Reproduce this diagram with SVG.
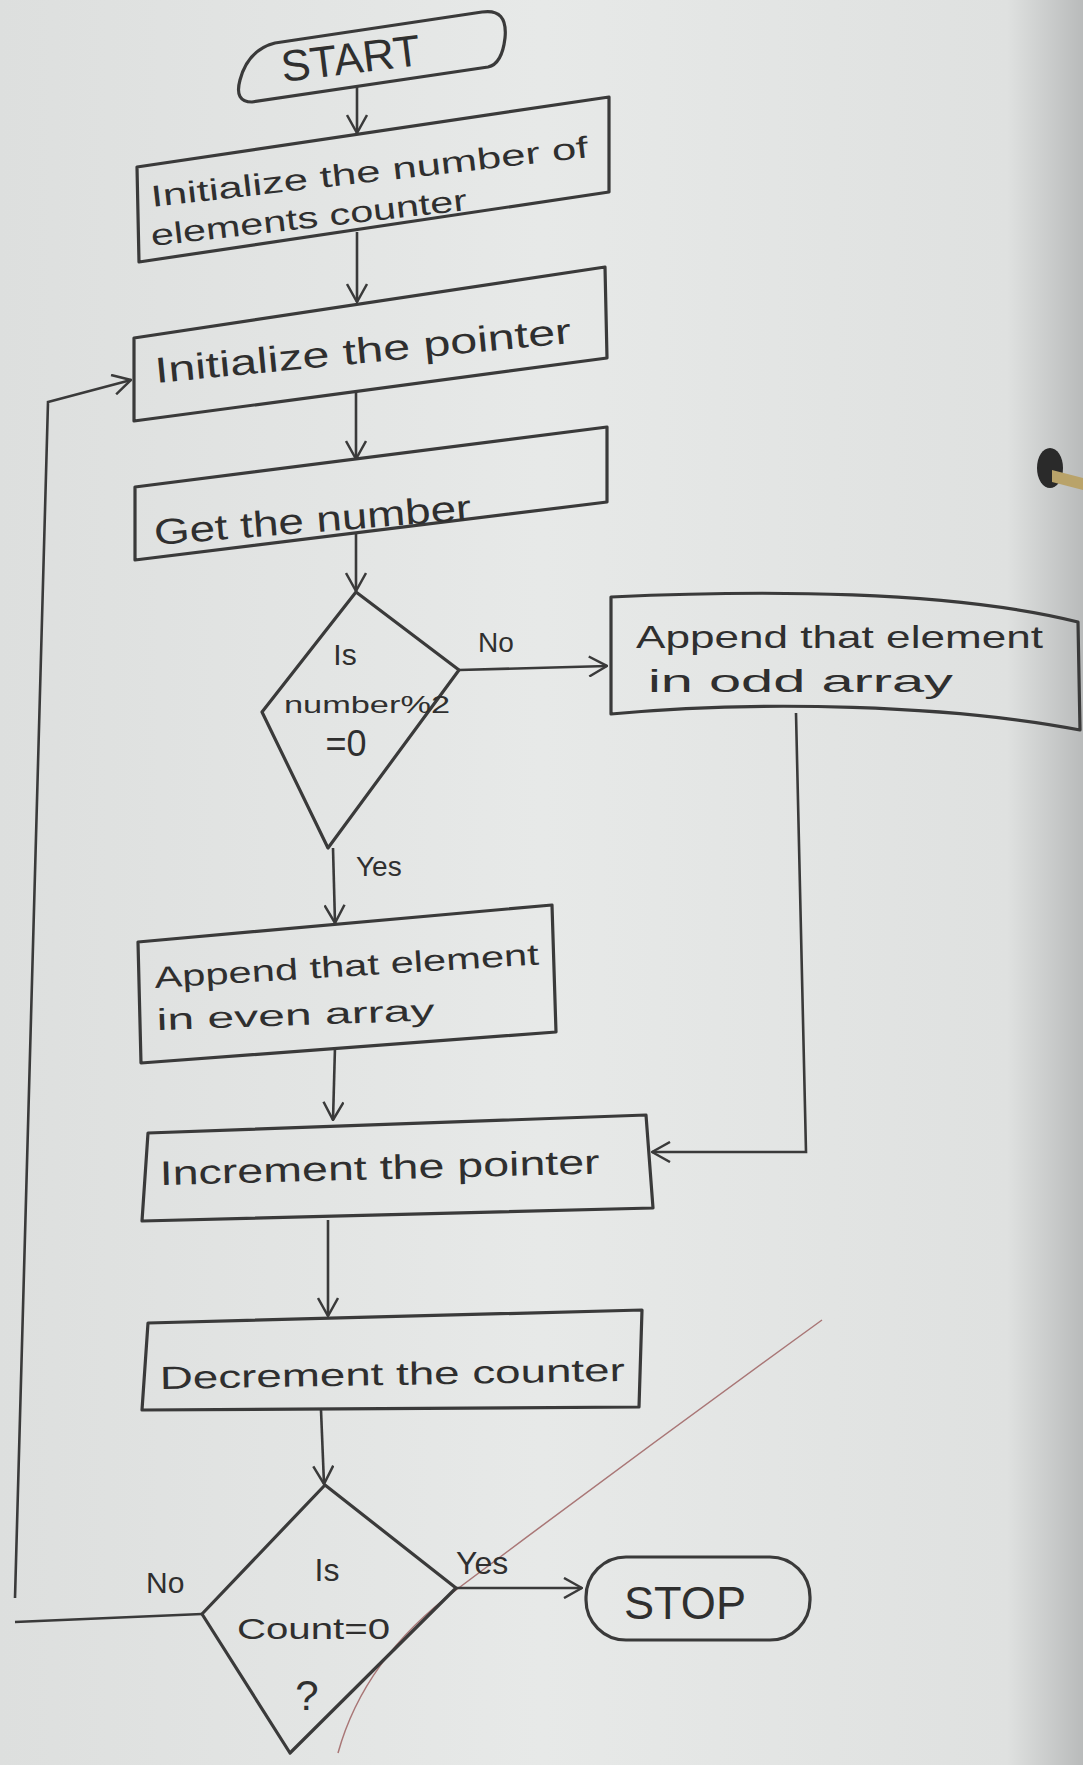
<svg xmlns="http://www.w3.org/2000/svg" width="1083" height="1765" viewBox="0 0 1083 1765">
<defs>
<linearGradient id="paper" x1="0" y1="0" x2="1" y2="0">
<stop offset="0" stop-color="#dddfde"/>
<stop offset="0.5" stop-color="#e7e9e8"/>
<stop offset="0.93" stop-color="#dfe1e0"/>
<stop offset="1" stop-color="#b9bbbb"/>
</linearGradient>
<marker id="arr" viewBox="0 0 20 22" refX="19" refY="11" markerWidth="20" markerHeight="22" markerUnits="userSpaceOnUse" orient="auto">
<path d="M1,1 L19,11 L1,21" fill="none" stroke="#3a3a3a" stroke-width="2.5"/>
</marker>
<style>
.shape{fill:none;stroke:#3a3a3a;stroke-width:3.2;stroke-linejoin:round}
.conn{fill:none;stroke:#3a3a3a;stroke-width:2.6;marker-end:url(#arr)}
.t{font-family:"Liberation Sans","DejaVu Sans",sans-serif;fill:#2f2f2f}
</style>
</defs>
<rect x="0" y="0" width="1083" height="1765" fill="url(#paper)"/>
<ellipse cx="1050" cy="468" rx="13" ry="20" fill="#2a2a2a"/>
<path d="M1052,470 L1083,478 L1083,490 L1052,482 Z" fill="#b9a36a"/>
<path d="M822,1320 Q640,1452 456,1590 Q364,1659 338,1753" fill="none" stroke="#9a5a5a" stroke-width="1.5" opacity="0.8"/>

<g id="start">
<path class="shape" d="M275,43 L482,12 Q508,8 505,38 Q502,64 488,67 L252,102 Q234,102 240,80 Q248,50 275,43 Z"/>
<text class="t" x="283" y="82" font-size="44" textLength="140" lengthAdjust="spacingAndGlyphs" transform="rotate(-7 283 82)">START</text>
</g>

<g id="init_counter">
<polygon class="shape" points="137,167 609,97 609,192 139,262"/>
<text class="t" x="152" y="207" font-size="30" textLength="440" lengthAdjust="spacingAndGlyphs" transform="rotate(-6.5 152 207)">Initialize the number of</text>
<text class="t" x="152" y="246" font-size="30" textLength="318" lengthAdjust="spacingAndGlyphs" transform="rotate(-6.5 152 246)">elements counter</text>
</g>

<g id="init_pointer">
<polygon class="shape" points="134,338 605,267 607,358 134,421"/>
<text class="t" x="156" y="383" font-size="36" textLength="418" lengthAdjust="spacingAndGlyphs" transform="rotate(-5.5 156 383)">Initialize the pointer</text>
</g>

<g id="get_number">
<polygon class="shape" points="135,487 607,427 607,502 135,560"/>
<text class="t" x="155" y="545" font-size="36" textLength="318" lengthAdjust="spacingAndGlyphs" transform="rotate(-4.6 155 545)">Get the number</text>
</g>

<g id="is_even">
<polygon class="shape" points="356,592 459,670 328,848 262,712"/>
<text class="t" x="345" y="665" font-size="30" text-anchor="middle">Is</text>
<text class="t" x="284" y="713" font-size="24" textLength="166" lengthAdjust="spacingAndGlyphs">number%2</text>
<text class="t" x="346" y="756" font-size="36" text-anchor="middle">=0</text>
</g>

<g id="odd_array">
<path class="shape" d="M611,597 C760,590 950,590 1078,622 L1080,730 C950,705 760,700 611,714 Z"/>
<text class="t" x="636" y="648" font-size="32" textLength="407" lengthAdjust="spacingAndGlyphs">Append that element</text>
<text class="t" x="648" y="692" font-size="32" textLength="305" lengthAdjust="spacingAndGlyphs">in odd array</text>
</g>

<g id="even_array">
<polygon class="shape" points="138,942 552,905 556,1032 141,1063"/>
<text class="t" x="155" y="988" font-size="30" textLength="385" lengthAdjust="spacingAndGlyphs" transform="rotate(-3.5 155 988)">Append that element</text>
<text class="t" x="157" y="1030" font-size="30" textLength="278" lengthAdjust="spacingAndGlyphs" transform="rotate(-2 157 1030)">in even array</text>
</g>

<g id="increment">
<polygon class="shape" points="148,1133 646,1115 653,1208 142,1221"/>
<text class="t" x="160" y="1185" font-size="34" textLength="440" lengthAdjust="spacingAndGlyphs" transform="rotate(-1.5 160 1185)">Increment the pointer</text>
</g>

<g id="decrement">
<polygon class="shape" points="148,1323 642,1310 639,1407 142,1410"/>
<text class="t" x="160" y="1389" font-size="32" textLength="465" lengthAdjust="spacingAndGlyphs" transform="rotate(-1 160 1389)">Decrement the counter</text>
</g>

<g id="is_count_zero">
<polygon class="shape" points="325,1485 456,1588 290,1753 202,1614"/>
<text class="t" x="327" y="1581" font-size="32" text-anchor="middle">Is</text>
<text class="t" x="237" y="1639" font-size="30" textLength="153" lengthAdjust="spacingAndGlyphs">Count=0</text>
<text class="t" x="307" y="1710" font-size="42" text-anchor="middle">?</text>
</g>

<g id="stop">
<rect class="shape" x="586" y="1557" width="224" height="83" rx="40" ry="40"/>
<text class="t" x="624" y="1619" font-size="46" textLength="122" lengthAdjust="spacingAndGlyphs">STOP</text>
</g>

<g id="connectors">
<path class="conn" d="M357,87 L357,133"/>
<path class="conn" d="M357,232 L357,302"/>
<path class="conn" d="M356,391 L356,459"/>
<path class="conn" d="M356,533 L356,591"/>
<path class="conn" d="M459,670 L607,666"/>
<path class="conn" d="M333,848 L335,923"/>
<path class="conn" d="M335,1047 L333,1120"/>
<path class="conn" d="M796,713 L806,1152 L652,1152"/>
<path class="conn" d="M328,1220 L328,1316"/>
<path class="conn" d="M321,1410 L324,1484"/>
<path class="conn" d="M456,1588 L582,1588"/>
<path class="conn" d="M202,1614 L15,1622 M15,1598 L48,402 L131,380"/>
<text class="t" x="478" y="652" font-size="28">No</text>
<text class="t" x="356" y="876" font-size="28">Yes</text>
<text class="t" x="146" y="1593" font-size="30">No</text>
<text class="t" x="456" y="1574" font-size="32">Yes</text>
</g>
</svg>
